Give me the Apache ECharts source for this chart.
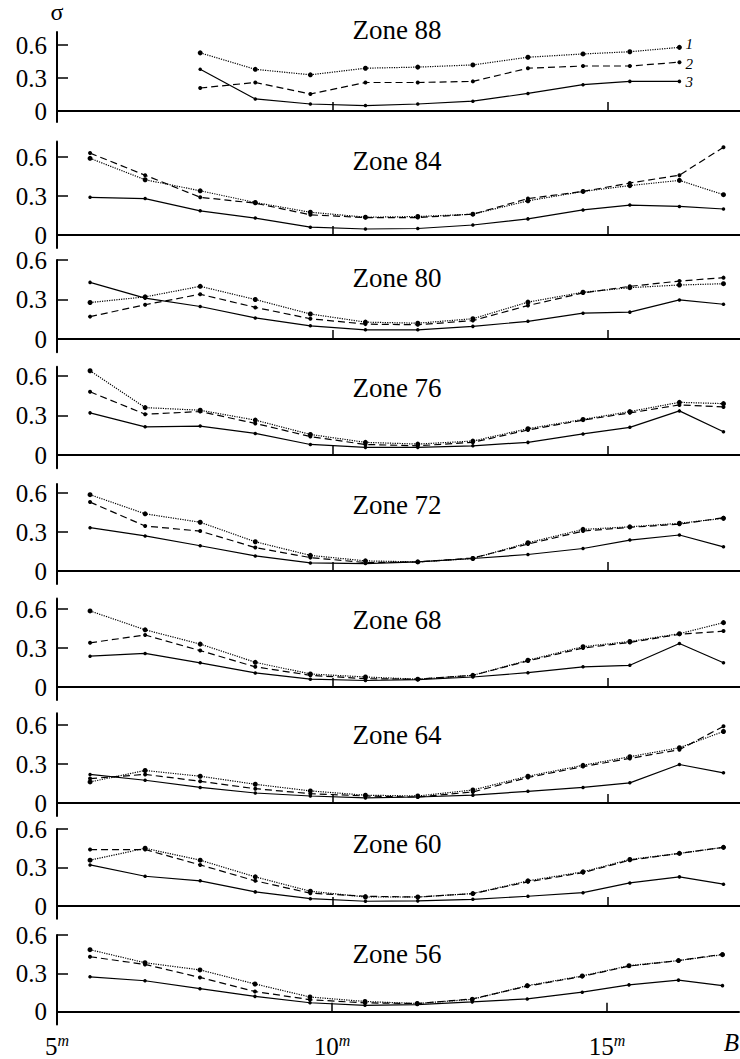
<!DOCTYPE html>
<html>
<head>
<meta charset="utf-8">
<script src="https://cdn.jsdelivr.net/npm/echarts@6/dist/echarts.min.js"></script>
<style>
  html, body { margin: 0; padding: 0; background: #fff; }
  #main { width: 740px; height: 1059px; }
</style>
</head>
<body>
<div id="main"></div>
<script>
// magnitude bins (B)
const bMag = [5.6, 6.6, 7.6, 8.6, 9.6, 10.6, 11.55, 12.55, 13.55, 14.55, 15.4, 16.3, 17.1];
const zoneNames = ["Zone 88", "Zone 84", "Zone 80", "Zone 76", "Zone 72", "Zone 68", "Zone 64", "Zone 60", "Zone 56"];
const xLabels = [5, 10, 15];
const xTicks = [10, 15];
const yTicks = [0, 0.3, 0.6];

// sigma values, curve 1 (dotted), 2 (dashed), 3 (solid)
const z88_1 = [null, null, 0.53, 0.38, 0.33, 0.39, 0.40, 0.42, 0.49, 0.52, 0.54, 0.58, null];
const z88_2 = [null, null, 0.21, 0.26, 0.155, 0.26, 0.26, 0.27, 0.39, 0.41, 0.41, 0.445, null];
const z88_3 = [null, null, 0.38, 0.11, 0.064, 0.05, 0.064, 0.09, 0.16, 0.24, 0.27, 0.27, null];

const z84_1 = [0.59, 0.425, 0.34, 0.25, 0.175, 0.137, 0.142, 0.16, 0.263, 0.335, 0.38, 0.42, 0.31];
const z84_2 = [0.63, 0.46, 0.29, 0.245, 0.155, 0.134, 0.134, 0.16, 0.28, 0.335, 0.40, 0.46, 0.675];
const z84_3 = [0.29, 0.28, 0.186, 0.13, 0.06, 0.046, 0.05, 0.077, 0.124, 0.193, 0.23, 0.22, 0.20];

const z80_1 = [0.277, 0.32, 0.40, 0.30, 0.19, 0.128, 0.12, 0.154, 0.28, 0.355, 0.39, 0.41, 0.42];
const z80_2 = [0.17, 0.26, 0.34, 0.24, 0.154, 0.113, 0.108, 0.14, 0.254, 0.35, 0.40, 0.44, 0.466];
const z80_3 = [0.43, 0.31, 0.247, 0.16, 0.10, 0.07, 0.07, 0.096, 0.134, 0.196, 0.204, 0.297, 0.264];

const z76_1 = [0.64, 0.36, 0.34, 0.265, 0.156, 0.096, 0.083, 0.106, 0.20, 0.27, 0.33, 0.40, 0.39];
const z76_2 = [0.48, 0.31, 0.33, 0.24, 0.14, 0.08, 0.07, 0.096, 0.19, 0.265, 0.32, 0.38, 0.365];
const z76_3 = [0.32, 0.214, 0.22, 0.164, 0.08, 0.058, 0.058, 0.07, 0.096, 0.16, 0.21, 0.335, 0.176];

const z72_1 = [0.587, 0.44, 0.375, 0.225, 0.12, 0.078, 0.07, 0.096, 0.217, 0.32, 0.34, 0.367, 0.405];
const z72_2 = [0.53, 0.346, 0.307, 0.18, 0.103, 0.065, 0.07, 0.10, 0.207, 0.307, 0.336, 0.36, 0.41];
const z72_3 = [0.333, 0.27, 0.194, 0.116, 0.062, 0.057, 0.07, 0.096, 0.127, 0.173, 0.238, 0.277, 0.186];

const z68_1 = [0.585, 0.44, 0.33, 0.19, 0.10, 0.077, 0.06, 0.09, 0.206, 0.31, 0.35, 0.41, 0.495];
const z68_2 = [0.34, 0.40, 0.28, 0.155, 0.09, 0.064, 0.06, 0.09, 0.20, 0.30, 0.343, 0.405, 0.43];
const z68_3 = [0.237, 0.258, 0.186, 0.108, 0.06, 0.05, 0.057, 0.077, 0.11, 0.155, 0.167, 0.335, 0.186];

const z64_1 = [0.162, 0.25, 0.206, 0.144, 0.093, 0.06, 0.054, 0.10, 0.206, 0.29, 0.356, 0.425, 0.55];
const z64_2 = [0.188, 0.22, 0.167, 0.11, 0.072, 0.054, 0.046, 0.085, 0.196, 0.28, 0.343, 0.41, 0.59];
const z64_3 = [0.22, 0.175, 0.12, 0.077, 0.054, 0.039, 0.046, 0.06, 0.09, 0.12, 0.155, 0.296, 0.232];

const z60_1 = [0.357, 0.45, 0.357, 0.227, 0.115, 0.07, 0.07, 0.097, 0.196, 0.266, 0.363, 0.41, 0.457];
const z60_2 = [0.44, 0.44, 0.32, 0.196, 0.10, 0.076, 0.07, 0.097, 0.188, 0.26, 0.357, 0.41, 0.457];
const z60_3 = [0.32, 0.232, 0.196, 0.11, 0.057, 0.037, 0.04, 0.052, 0.076, 0.104, 0.18, 0.227, 0.17];

const z56_1 = [0.485, 0.383, 0.327, 0.217, 0.115, 0.08, 0.064, 0.097, 0.204, 0.28, 0.36, 0.40, 0.446];
const z56_2 = [0.43, 0.37, 0.268, 0.158, 0.094, 0.069, 0.064, 0.10, 0.20, 0.276, 0.357, 0.40, 0.45];
const z56_3 = [0.273, 0.242, 0.18, 0.12, 0.07, 0.05, 0.056, 0.077, 0.10, 0.153, 0.21, 0.247, 0.204];

const zoneData = [
  [z88_1, z88_2, z88_3], [z84_1, z84_2, z84_3], [z80_1, z80_2, z80_3],
  [z76_1, z76_2, z76_3], [z72_1, z72_2, z72_3], [z68_1, z68_2, z68_3],
  [z64_1, z64_2, z64_3], [z60_1, z60_2, z60_3], [z56_1, z56_2, z56_3]
];
const curveNames = ["1", "2", "3"];

// layout: pixel y of 0.6, pixel y of 0, axis max, title centre y
const panels = [
  [45, 111, 0.72, 30], [157, 235, 0.72, 161], [260, 339, 0.6, 278],
  [376, 455, 0.67, 388], [493, 571, 0.67, 505], [609, 687, 0.68, 620],
  [725, 803, 0.69, 735], [829, 906, 0.6, 844], [935, 1013, 0.6, 954]
];

const FONT = "'Liberation Serif', 'DejaVu Serif', serif";
const yMin = -0.1;
const lineTypes = ["dotted", [7, 4], "solid"];
const symSizes = [5, 4, 3.5];
const endOffsets = [[0, -3], [0, 2], [0, 1]];

const grid = [], xAxis = [], yAxis = [], series = [], graphic = [];

panels.forEach((p, i) => {
  const [y06, y0, yMax, titleY] = p;
  const s = (y0 - y06) / 0.6;
  const last = i === panels.length - 1;
  grid.push({ left: 57, right: 0, top: y06 - (yMax - 0.6) * s, height: (yMax - yMin) * s });
  xAxis.push({
    type: "value", gridIndex: i, min: 5, max: 17.4,
    name: last ? "B" : "",
    nameLocation: "end", nameGap: 0,
    nameTextStyle: { fontFamily: FONT, fontSize: 25, fontStyle: "italic", color: "#000",
      align: "right", verticalAlign: "top", padding: [18, 0, 0, 0] },
    axisLine: { lineStyle: { color: "#000", width: 2 } },
    axisTick: { show: true, inside: true, length: 9, customValues: xTicks, lineStyle: { color: "#000", width: 1.5 } },
    axisLabel: {
      show: last, customValues: xLabels, margin: 8, color: "#000",
      formatter: (v) => "{n|" + v + "}{m|m}",
      rich: {
        n: { fontFamily: FONT, fontSize: 25, color: "#000" },
        m: { fontFamily: FONT, fontSize: 16, fontStyle: "italic", color: "#000", verticalAlign: "top", padding: [0, 0, 12, 0] }
      }
    },
    splitLine: { show: false }
  });
  yAxis.push({
    type: "value", gridIndex: i, min: yMin, max: yMax,
    name: i === 0 ? "σ" : "",
    nameLocation: "end", nameGap: 8,
    nameTextStyle: { fontFamily: FONT, fontSize: 24, color: "#000" },
    axisLine: { show: true, lineStyle: { color: "#000", width: 2 } },
    axisTick: { show: true, inside: true, length: 11, customValues: yTicks, lineStyle: { color: "#000", width: 1.5 } },
    axisLabel: {
      customValues: yTicks, margin: 10, color: "#000", fontFamily: FONT, fontSize: 25,
      formatter: (v) => (v === 0 ? "0" : v.toFixed(1))
    },
    splitLine: { show: false }
  });
  graphic.push({
    type: "text", x: 397, y: titleY,
    style: { text: zoneNames[i], fontFamily: FONT, fontSize: 27, fill: "#000", textAlign: "center", textVerticalAlign: "middle" }
  });
  zoneData[i].forEach((vals, k) => {
    const pts = [];
    vals.forEach((v, j) => { if (v !== null) pts.push([bMag[j], v]); });
    series.push({
      type: "line", name: zoneNames[i] + " " + curveNames[k],
      xAxisIndex: i, yAxisIndex: i, data: pts,
      symbol: "circle", symbolSize: symSizes[k], showSymbol: true,
      lineStyle: { color: "#000", width: 1.2, type: lineTypes[k] },
      itemStyle: { color: "#000" },
      endLabel: {
        show: i === 0, formatter: curveNames[k], distance: 6, offset: endOffsets[k],
        fontFamily: FONT, fontSize: 15, lineHeight: 13, fontStyle: "italic", color: "#000"
      },
      z: 3 - k
    });
  });
});

const myChart = echarts.init(document.getElementById("main"), null, { renderer: "svg" });
myChart.setOption({
  animation: false,
  backgroundColor: "#fff",
  grid, xAxis, yAxis, series, graphic
});
</script>
</body>
</html>
